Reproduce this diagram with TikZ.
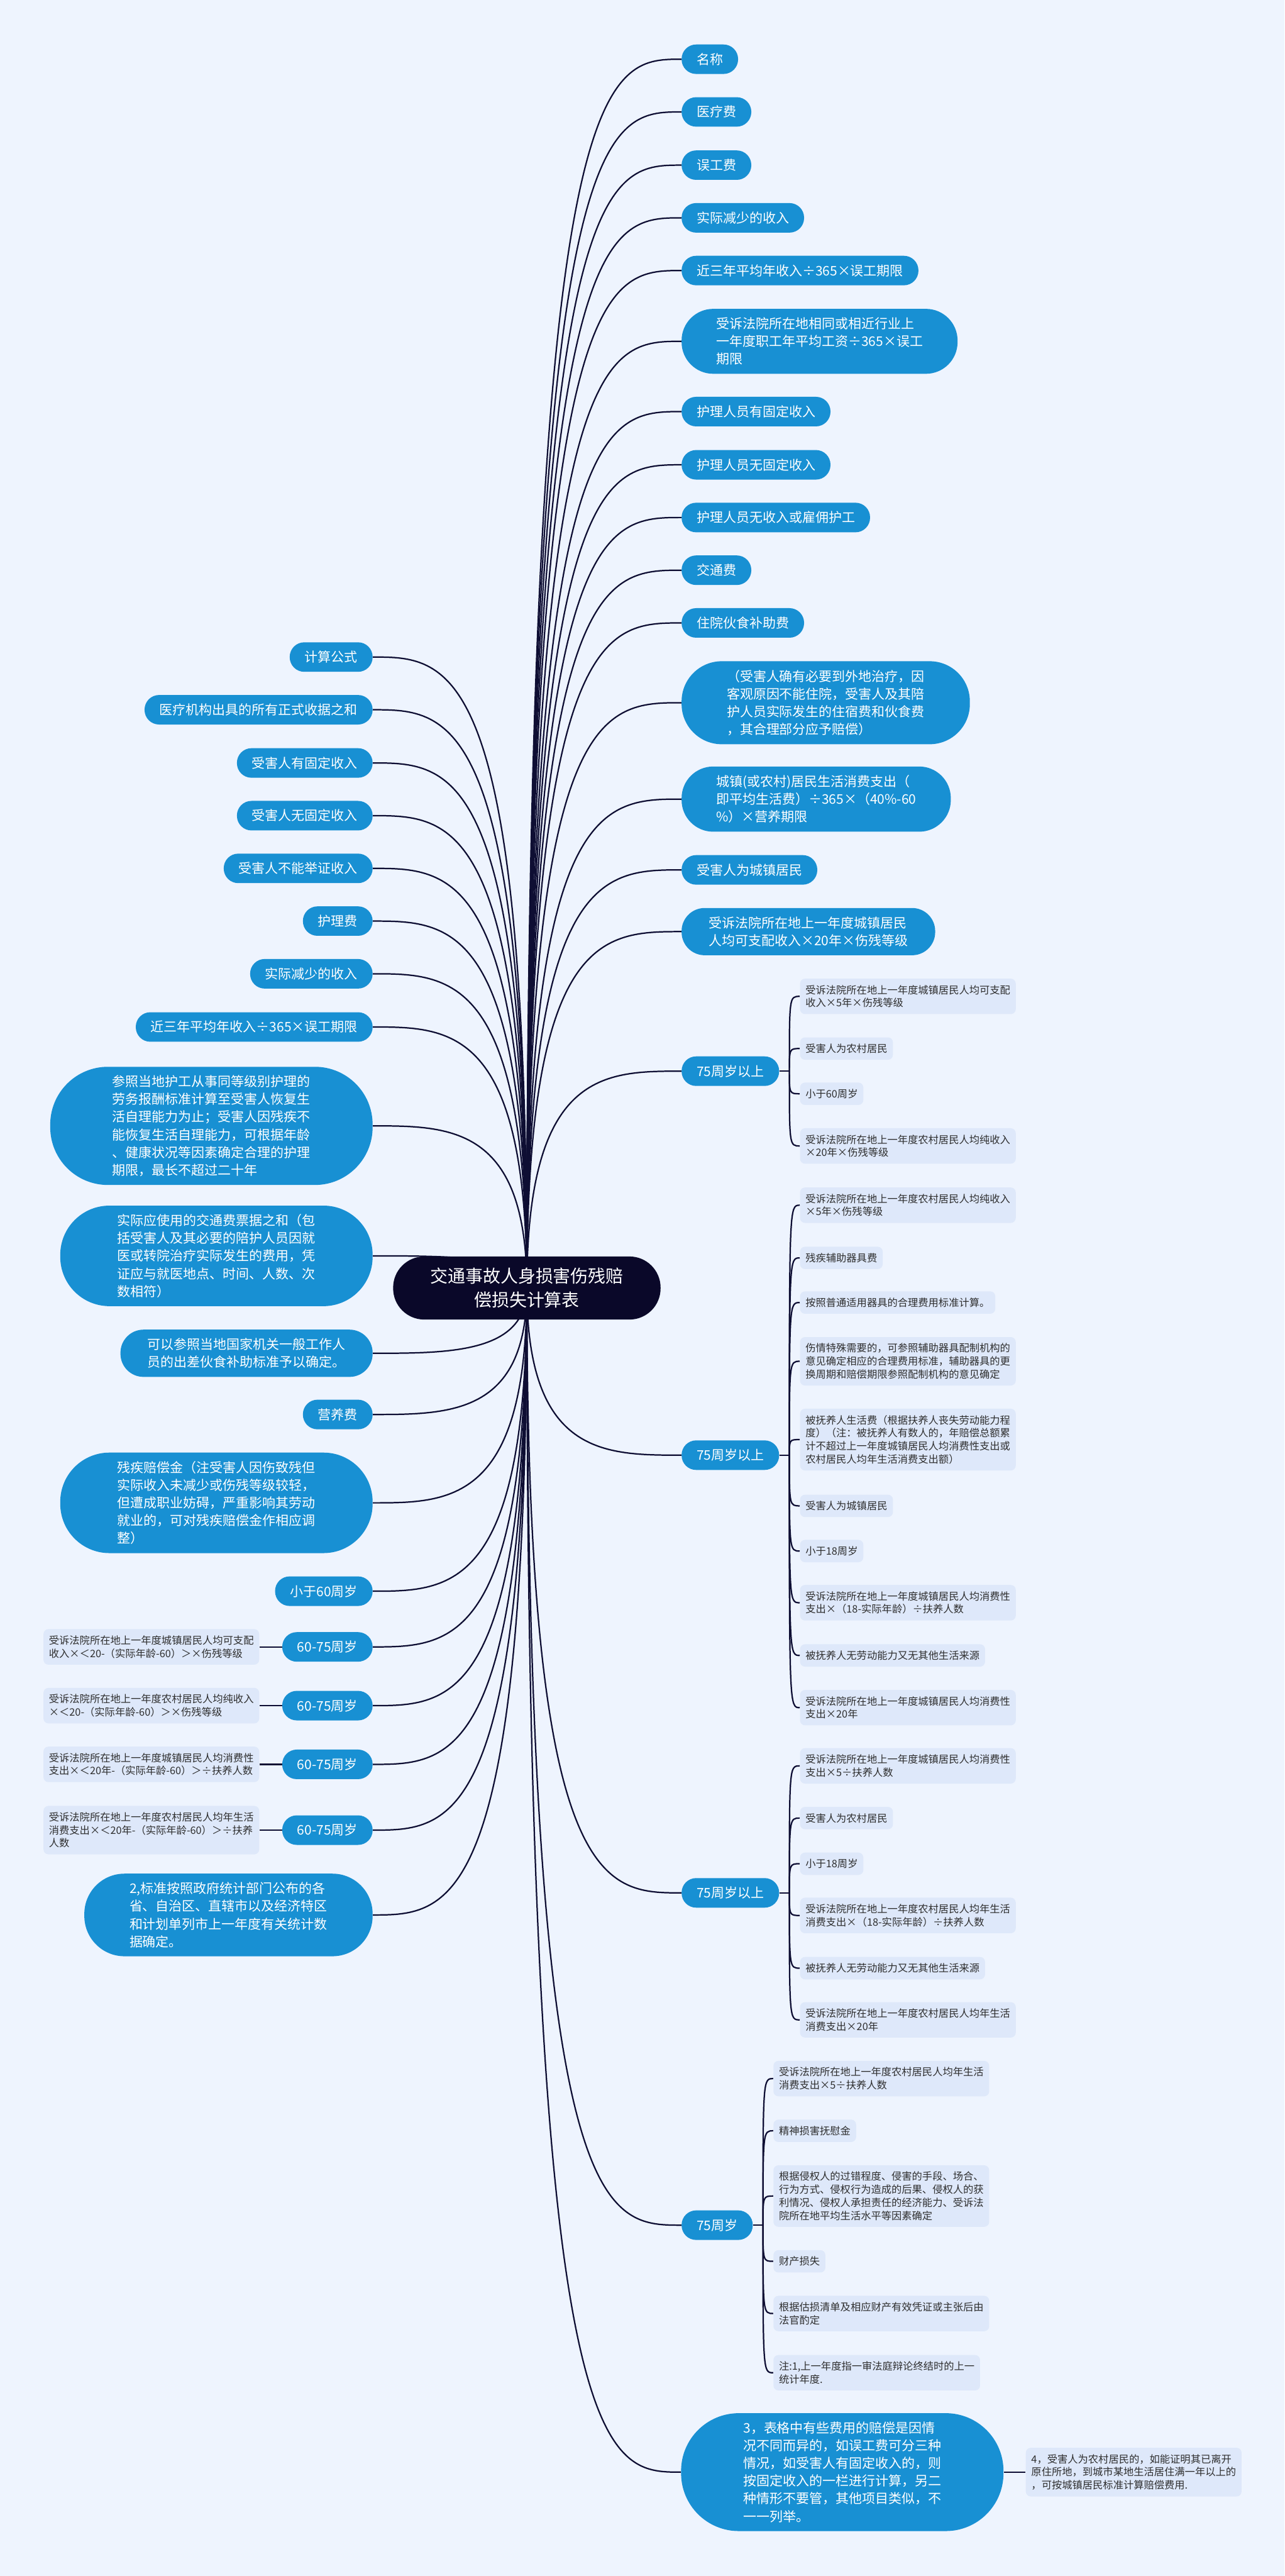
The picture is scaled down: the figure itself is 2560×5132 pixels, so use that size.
\documentclass[tikz,border=0pt]{standalone}
\usepackage{fontspec}
\setmainfont{Noto Sans CJK SC}
\usetikzlibrary{calc}
\definecolor{bgc}{HTML}{EEF4FE}
\definecolor{nodeblue}{HTML}{1890D3}
\definecolor{navy}{HTML}{0A0829}
\definecolor{leafc}{HTML}{DEE8FA}
\definecolor{linec}{HTML}{0E0E33}
\definecolor{leaftxt}{HTML}{2E2E2E}
\pgfdeclarelayer{bg}
\pgfdeclarelayer{lines}
\pgfsetlayers{bg,lines,main}
\newcommand\rconn[1]{\path (C.center |- #1.west) coordinate (tmpc);
  \draw[conn] (C.center) .. controls (tmpc) and ($(tmpc)!0.5!(#1.west)$) .. (#1.west);}
\newcommand\lconn[1]{\path (C.center |- #1.east) coordinate (tmpc);
  \draw[conn] (C.center) .. controls (tmpc) and ($(tmpc)!0.5!(#1.east)$) .. (#1.east);}
\newcommand\bconn[2]{\draw[conn] (#1) .. controls (#1 |- #2.west) and (#1 |- #2.west) .. (#2.west);}
\begin{document}
\begin{tikzpicture}[x=0.5pt,y=-0.5pt,
 bbase/.style={rectangle, fill=nodeblue, text=white, font=\fontsize{13.15pt}{17.6pt}\selectfont, inner ysep=8.6pt, align=left},
 b1/.style={bbase, rounded corners=14.5pt, inner xsep=15pt},
 b2/.style={bbase, rounded corners=23pt, inner xsep=27pt},
 b3/.style={bbase, rounded corners=31.5pt, inner xsep=34.5pt},
 b4/.style={bbase, rounded corners=40pt, inner xsep=45pt},
 b5/.style={bbase, rounded corners=49pt, inner xsep=57pt},
 b6/.style={bbase, rounded corners=57.5pt, inner xsep=62pt},
 cnode/.style={rectangle, rounded corners=31pt, fill=navy, text=white, font=\fontsize{17.5pt}{23.5pt}\selectfont, inner xsep=37pt, inner ysep=11.5pt, align=center},
 leaf/.style={rectangle, rounded corners=5pt, fill=leafc, text=leaftxt, font=\fontsize{10.2pt}{13pt}\selectfont, inner xsep=5.5pt, inner ysep=6.4pt, align=left},
 conn/.style={draw=linec, line width=1.4pt}]
\begin{pgfonlayer}{bg}
\fill[bgc] (0,0) rectangle (2560,5132);
\end{pgfonlayer}
\useasboundingbox (0,0) rectangle (2560,5132);

\node[cnode] (C) at (1050,2566) {交通事故人身损害伤残赔\\偿损失计算表};

% right level-1 nodes
\node[b1,anchor=west] (R1) at (1358,118) {名称};
\node[b1,anchor=west] (R2) at (1358,223) {医疗费};
\node[b1,anchor=west] (R3) at (1358,329) {误工费};
\node[b1,anchor=west] (R4) at (1358,434) {实际减少的收入};
\node[b1,anchor=west] (R5) at (1358,539) {近三年平均年收入÷365×误工期限};
\node[b3,anchor=west] (R6) at (1358,680) {受诉法院所在地相同或相近行业上\\一年度职工年平均工资÷365×误工\\期限};
\node[b1,anchor=west] (R7) at (1358,820) {护理人员有固定收入};
\node[b1,anchor=west] (R8) at (1358,926) {护理人员无固定收入};
\node[b1,anchor=west] (R9) at (1358,1031) {护理人员无收入或雇佣护工};
\node[b1,anchor=west] (R10) at (1358,1136) {交通费};
\node[b1,anchor=west] (R11) at (1358,1241) {住院伙食补助费};
\node[b4,anchor=west] (R12) at (1358,1400) {（受害人确有必要到外地治疗，因\\客观原因不能住院，受害人及其陪\\护人员实际发生的住宿费和伙食费\\，其合理部分应予赔偿）};
\node[b3,anchor=west] (R13) at (1358,1592) {城镇(或农村)居民生活消费支出（\\即平均生活费）÷365×（40\%-60\\\%）×营养期限};
\node[b1,anchor=west] (R14) at (1358,1733) {受害人为城镇居民};
\node[b2,anchor=west] (R15) at (1358,1856) {受诉法院所在地上一年度城镇居民\\人均可支配收入×20年×伤残等级};
\node[b1,anchor=west] (R16) at (1358,2134) {75周岁以上};
\node[b1,anchor=west] (R17) at (1358,2899) {75周岁以上};
\node[b1,anchor=west] (R18) at (1358,3771) {75周岁以上};
\node[b1,anchor=west] (R19) at (1358,4433) {75周岁};
\node[b6,anchor=west] (R20) at (1357,4925) {3，表格中有些费用的赔偿是因情\\况不同而异的，如误工费可分三种\\情况，如受害人有固定收入的，则\\按固定收入的一栏进行计算，另二\\种情形不要管，其他项目类似，不\\一一列举。};

% leaves of R16
\node[leaf,anchor=west] (A1) at (1594,1985) {受诉法院所在地上一年度城镇居民人均可支配\\收入×5年×伤残等级};
\node[leaf,anchor=west] (A2) at (1594,2089) {受害人为农村居民};
\node[leaf,anchor=west] (A3) at (1594,2179) {小于60周岁};
\node[leaf,anchor=west] (A4) at (1594,2283) {受诉法院所在地上一年度农村居民人均纯收入\\×20年×伤残等级};

% leaves of R17
\node[leaf,anchor=west] (B1) at (1594,2401) {受诉法院所在地上一年度农村居民人均纯收入\\×5年×伤残等级};
\node[leaf,anchor=west] (B2) at (1594,2506) {残疾辅助器具费};
\node[leaf,anchor=west] (B3) at (1594,2595) {按照普通适用器具的合理费用标准计算。};
\node[leaf,anchor=west] (B4) at (1594,2712) {伤情特殊需要的，可参照辅助器具配制机构的\\意见确定相应的合理费用标准，辅助器具的更\\换周期和赔偿期限参照配制机构的意见确定};
\node[leaf,anchor=west] (B5) at (1594,2868) {被抚养人生活费（根据扶养人丧失劳动能力程\\度）（注：被抚养人有数人的，年赔偿总额累\\计不超过上一年度城镇居民人均消费性支出或\\农村居民人均年生活消费支出额）};
\node[leaf,anchor=west] (B6) at (1594,3000) {受害人为城镇居民};
\node[leaf,anchor=west] (B7) at (1594,3090) {小于18周岁};
\node[leaf,anchor=west] (B8) at (1594,3193) {受诉法院所在地上一年度城镇居民人均消费性\\支出×（18-实际年龄）÷扶养人数};
\node[leaf,anchor=west] (B9) at (1594,3298) {被抚养人无劳动能力又无其他生活来源};
\node[leaf,anchor=west] (B10) at (1594,3402) {受诉法院所在地上一年度城镇居民人均消费性\\支出×20年};

% leaves of R18
\node[leaf,anchor=west] (D1) at (1594,3518) {受诉法院所在地上一年度城镇居民人均消费性\\支出×5÷扶养人数};
\node[leaf,anchor=west] (D2) at (1594,3622) {受害人为农村居民};
\node[leaf,anchor=west] (D3) at (1594,3713) {小于18周岁};
\node[leaf,anchor=west] (D4) at (1594,3816) {受诉法院所在地上一年度农村居民人均年生活\\消费支出×（18-实际年龄）÷扶养人数};
\node[leaf,anchor=west] (D5) at (1594,3921) {被抚养人无劳动能力又无其他生活来源};
\node[leaf,anchor=west] (D6) at (1594,4024) {受诉法院所在地上一年度农村居民人均年生活\\消费支出×20年};

% leaves of R19
\node[leaf,anchor=west] (E1) at (1541,4141) {受诉法院所在地上一年度农村居民人均年生活\\消费支出×5÷扶养人数};
\node[leaf,anchor=west] (E2) at (1541,4245) {精神损害抚慰金};
\node[leaf,anchor=west] (E3) at (1541,4375) {根据侵权人的过错程度、侵害的手段、场合、\\行为方式、侵权行为造成的后果、侵权人的获\\利情况、侵权人承担责任的经济能力、受诉法\\院所在地平均生活水平等因素确定};
\node[leaf,anchor=west] (E4) at (1541,4505) {财产损失};
\node[leaf,anchor=west] (E5) at (1541,4609) {根据估损清单及相应财产有效凭证或主张后由\\法官酌定};
\node[leaf,anchor=west] (E6) at (1541,4727) {注:1,上一年度指一审法庭辩论终结时的上一\\统计年度.};

% leaf of R20
\node[leaf,anchor=west] (F1) at (2044,4925) {4，受害人为农村居民的，如能证明其已离开\\原住所地，到城市某地生活居住满一年以上的\\，可按城镇居民标准计算赔偿费用.};

% left level-1 nodes
\node[b1,anchor=east] (L1) at (743,1309) {计算公式};
\node[b1,anchor=east] (L2) at (743,1414) {医疗机构出具的所有正式收据之和};
\node[b1,anchor=east] (L3) at (743,1520) {受害人有固定收入};
\node[b1,anchor=east] (L4) at (743,1625) {受害人无固定收入};
\node[b1,anchor=east] (L5) at (743,1730) {受害人不能举证收入};
\node[b1,anchor=east] (L6) at (743,1835) {护理费};
\node[b1,anchor=east] (L7) at (743,1940) {实际减少的收入};
\node[b1,anchor=east] (L8) at (743,2046) {近三年平均年收入÷365×误工期限};
\node[b6,anchor=east] (L9) at (743,2243) {参照当地护工从事同等级别护理的\\劳务报酬标准计算至受害人恢复生\\活自理能力为止；受害人因残疾不\\能恢复生活自理能力，可根据年龄\\、健康状况等因素确定合理的护理\\期限，最长不超过二十年};
\node[b5,anchor=east] (L10) at (743,2502) {实际应使用的交通费票据之和（包\\括受害人及其必要的陪护人员因就\\医或转院治疗实际发生的费用，凭\\证应与就医地点、时间、人数、次\\数相符）};
\node[b2,anchor=east] (L11) at (743,2696) {可以参照当地国家机关一般工作人\\员的出差伙食补助标准予以确定。};
\node[b1,anchor=east] (L12) at (743,2818) {营养费};
\node[b5,anchor=east] (L13) at (743,2994) {残疾赔偿金（注受害人因伤致残但\\实际收入未减少或伤残等级较轻，\\但遭成职业妨碍，严重影响其劳动\\就业的，可对残疾赔偿金作相应调\\整）};
\node[b1,anchor=east] (L14) at (743,3170) {小于60周岁};
\node[b1,anchor=east] (L15) at (743,3281) {60-75周岁};
\node[b1,anchor=east] (L16) at (743,3398) {60-75周岁};
\node[b1,anchor=east] (L17) at (743,3515) {60-75周岁};
\node[b1,anchor=east] (L18) at (743,3646) {60-75周岁};
\node[b4,anchor=east] (L19) at (743,3815) {2,标准按照政府统计部门公布的各\\省、自治区、直辖市以及经济特区\\和计划单列市上一年度有关统计数\\据确定。};

% left leaves
\node[leaf,anchor=east] (G1) at (517,3281) {受诉法院所在地上一年度城镇居民人均可支配\\收入×＜20-（实际年龄-60）＞×伤残等级};
\node[leaf,anchor=east] (G2) at (517,3398) {受诉法院所在地上一年度农村居民人均纯收入\\×＜20-（实际年龄-60）＞×伤残等级};
\node[leaf,anchor=east] (G3) at (517,3515) {受诉法院所在地上一年度城镇居民人均消费性\\支出×＜20年-（实际年龄-60）＞÷扶养人数};
\node[leaf,anchor=east] (G4) at (517,3646) {受诉法院所在地上一年度农村居民人均年生活\\消费支出×＜20年-（实际年龄-60）＞÷扶养\\人数};

\begin{pgfonlayer}{lines}
\foreach \n in {R1,R2,R3,R4,R5,R6,R7,R8,R9,R10,R11,R12,R13,R14,R15,R16,R17,R18,R19,R20} {\rconn{\n}}
\foreach \n in {L1,L2,L3,L4,L5,L6,L7,L8,L9,L10,L11,L12,L13,L14,L15,L16,L17,L18,L19} {\lconn{\n}}
\draw[conn] (R16.east) -- ++(20,0) coordinate (s16);
\draw[conn] (R17.east) -- ++(20,0) coordinate (s17);
\draw[conn] (R18.east) -- ++(20,0) coordinate (s18);
\draw[conn] (R19.east) -- ++(20,0) coordinate (s19);
\foreach \n in {A1,A2,A3,A4} {\bconn{s16}{\n}}
\foreach \n in {B1,B2,B3,B4,B5,B6,B7,B8,B9,B10} {\bconn{s17}{\n}}
\foreach \n in {D1,D2,D3,D4,D5,D6} {\bconn{s18}{\n}}
\foreach \n in {E1,E2,E3,E4,E5,E6} {\bconn{s19}{\n}}
\draw[conn] (R20.east) -- (F1.west);
\draw[conn] (G1.east) -- (L15.west);
\draw[conn] (G2.east) -- (L16.west);
\draw[conn] (G3.east) -- (L17.west);
\draw[conn] (G4.east) -- (L18.west);
\end{pgfonlayer}
\end{tikzpicture}
\end{document}
